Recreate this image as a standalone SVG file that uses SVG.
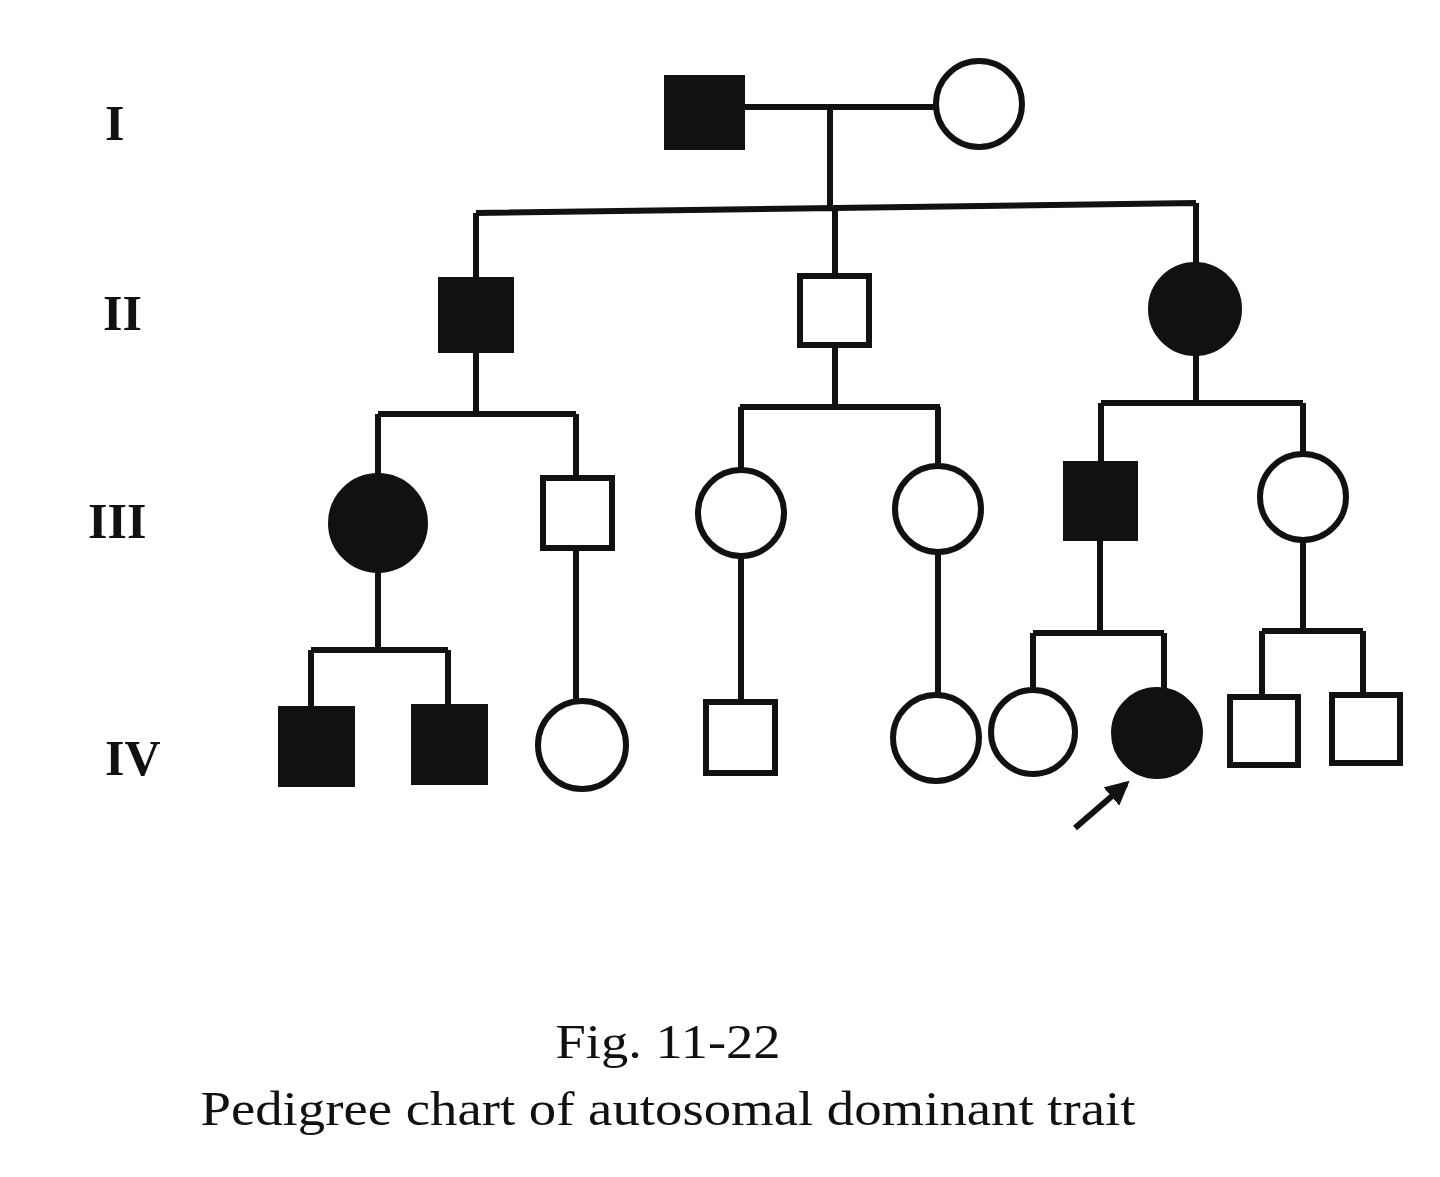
<svg xmlns="http://www.w3.org/2000/svg" width="1440" height="1177" viewBox="0 0 1440 1177">
<style>
.o{fill:#fff;stroke:#111;stroke-width:6}
.f{fill:#111;stroke:#111;stroke-width:6}
.l{fill:none;stroke:#111;stroke-width:6}
.g{font-family:"Liberation Serif",serif;font-weight:bold;font-size:50px;fill:#111}
.c{font-family:"Liberation Serif",serif;font-size:48px;fill:#111;text-anchor:middle}
</style>
<defs><marker id="ah" viewBox="0 0 10 10" refX="8" refY="5" markerWidth="4" markerHeight="4" orient="auto"><path d="M0,0L10,5L0,10z" fill="#111"/></marker></defs>
<rect width="1440" height="1177" fill="#fff"/>
<text class="g" x="105" y="140">I</text>
<text class="g" x="103" y="330">II</text>
<text class="g" x="88" y="538">III</text>
<text class="g" x="105" y="775">IV</text>
<g id="connectors">
<path class="l" d="M742,107H936M830,107V208M476,213L1196,203M476,213V280M835,208V276M1196,203V264"/>
<path class="l" d="M476,350V414M378,414H576M378,414V475M576,414V478"/>
<path class="l" d="M835,345V407M740,407H940M741,407V469M938,407V465"/>
<path class="l" d="M1196,354V403M1101,403H1303M1101,403V464M1303,403V454"/>
<path class="l" d="M378,571V650M311,650H448M311,650V709M448,650V707"/>
<path class="l" d="M576,548V700M741,557V702M938,553V694"/>
<path class="l" d="M1100,538V633M1033,633H1164M1033,633V690M1164,633V689"/>
<path class="l" d="M1303,540V631M1262,631H1363M1262,631V697M1363,631V695"/>
<line class="l" x1="1075" y1="828" x2="1126" y2="784" marker-end="url(#ah)"/>
</g>
<g id="I1"><rect class="f" x="667" y="78" width="75" height="69"/></g>
<g id="I2"><circle class="o" cx="979" cy="104" r="43"/></g>
<g id="II1"><rect class="f" x="441" y="280" width="70" height="70"/></g>
<g id="II2"><rect class="o" x="800" y="276" width="69" height="69"/></g>
<g id="II3"><circle class="f" cx="1195" cy="309" r="44"/></g>
<g id="III1"><circle class="f" cx="378" cy="523" r="47"/></g>
<g id="III2"><rect class="o" x="543" y="478" width="69" height="70"/></g>
<g id="III3"><circle class="o" cx="741" cy="513" r="43"/></g>
<g id="III4"><circle class="o" cx="938" cy="509" r="43"/></g>
<g id="III5"><rect class="f" x="1066" y="464" width="69" height="74"/></g>
<g id="III6"><circle class="o" cx="1303" cy="497" r="43"/></g>
<g id="IV1"><rect class="f" x="281" y="709" width="71" height="75"/></g>
<g id="IV2"><rect class="f" x="414" y="707" width="71" height="75"/></g>
<g id="IV3"><circle class="o" cx="582" cy="745" r="44"/></g>
<g id="IV4"><rect class="o" x="706" y="702" width="69" height="71"/></g>
<g id="IV5"><circle class="o" cx="936" cy="738" r="43"/></g>
<g id="IV6"><circle class="o" cx="1033" cy="732" r="42"/></g>
<g id="IV7"><circle class="f" cx="1157" cy="733" r="43"/></g>
<g id="IV8"><rect class="o" x="1230" y="697" width="68" height="68"/></g>
<g id="IV9"><rect class="o" x="1332" y="695" width="68" height="68"/></g>
<text class="c" x="668" y="1058" textLength="225" lengthAdjust="spacingAndGlyphs">Fig. 11-22</text>
<text class="c" x="668" y="1125" textLength="935" lengthAdjust="spacingAndGlyphs">Pedigree chart of autosomal dominant trait</text>
</svg>
